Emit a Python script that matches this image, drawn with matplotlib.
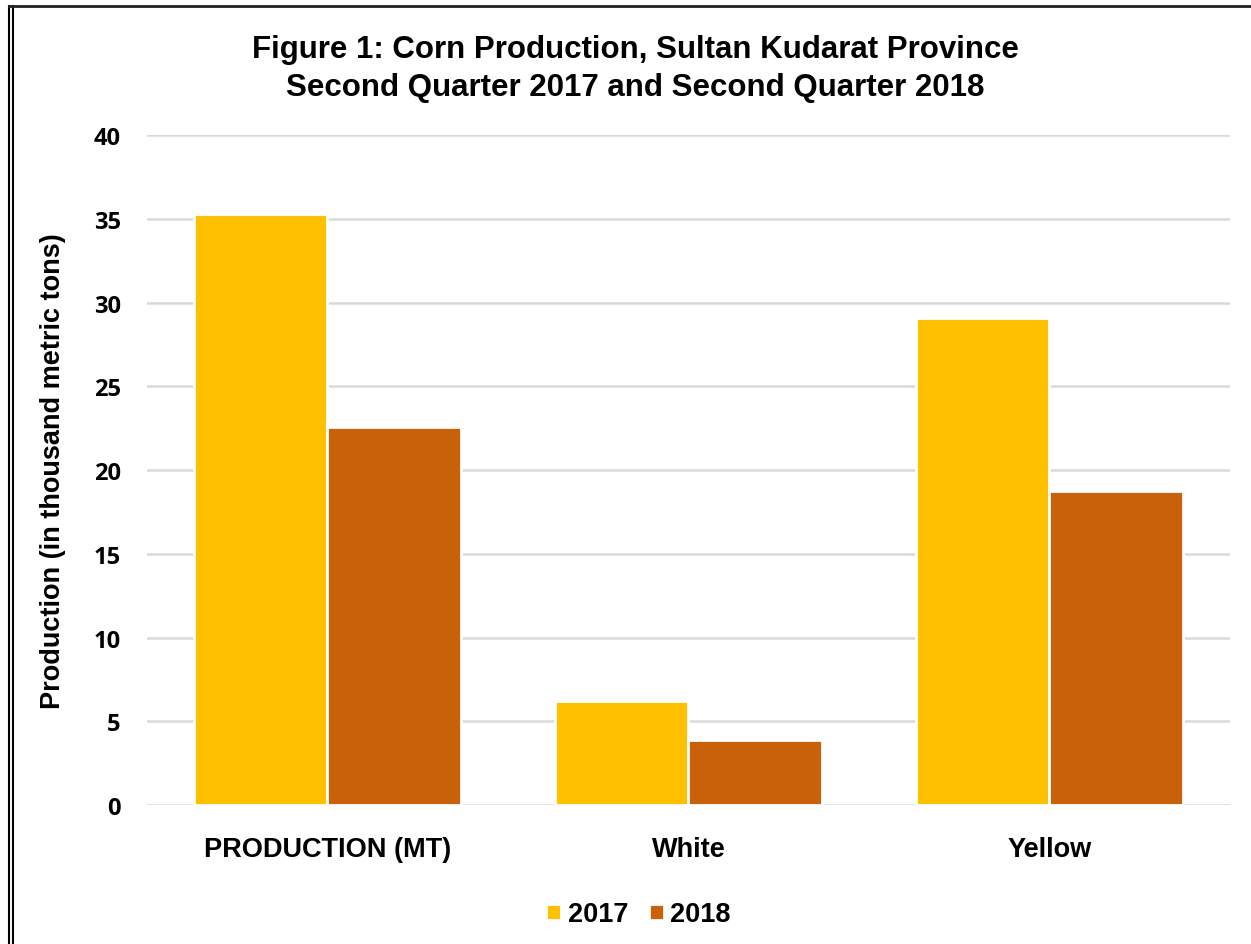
import matplotlib.pyplot as plt
import numpy as np
from matplotlib.lines import Line2D

categories = ['PRODUCTION (MT)', 'White', 'Yellow']
years = ['2017', '2018']
prod_2017 = [35.3, 6.2, 29.1]
prod_2018 = [22.6, 3.9, 18.75]
colors = ['#FFC000', '#C9600A']

plt.rcParams['font.family'] = ['Liberation Sans', 'DejaVu Sans']

fig = plt.figure(figsize=(12.51, 9.45), dpi=100)
ax = fig.add_axes([0.1175, 0.147, 0.8655, 0.709])

x = np.arange(len(categories))
w = 0.37
ax.bar(x - w / 2, prod_2017, w, color=colors[0], edgecolor='white', linewidth=2, label=years[0], zorder=3)
ax.bar(x + w / 2, prod_2018, w, color=colors[1], edgecolor='white', linewidth=2, label=years[1], zorder=3)

ax.set_xlim(-0.5, 2.5)
ax.set_ylim(0, 40)
ax.set_yticks(range(0, 41, 5))
ax.grid(axis='y', color='#D9D9D9', linewidth=1.8, zorder=0)
for s in ax.spines.values():
    s.set_visible(False)
ax.tick_params(length=0)
ax.tick_params(axis='y', pad=19)
ax.tick_params(axis='x', pad=22)
ax.set_xticks(x)
ax.set_xticklabels(categories, fontweight='bold', fontsize=19.5)
ax.set_yticklabels([str(v) for v in range(0, 41, 5)], fontweight='bold', fontsize=17,
                   family=['Open Sans', 'DejaVu Sans'])
ax.set_ylabel('Production (in thousand metric tons)', fontsize=19.5, fontweight='bold', labelpad=20)

fig.text(0.508, 0.963, 'Figure 1: Corn Production, Sultan Kudarat Province\nSecond Quarter 2017 and Second Quarter 2018',
         ha='center', va='top', fontsize=22.5, fontweight='heavy', linespacing=1.35)

ax.legend(loc='center', bbox_to_anchor=(0.454, -0.163), ncol=2, frameon=False,
          prop={'size': 19.5, 'weight': 'bold'}, handlelength=0.55, handleheight=0.55,
          handletextpad=0.25, columnspacing=0.75)

# page border lines
fig.add_artist(Line2D([0.0075, 0.0075], [0, 0.993], color='black', lw=1.5))
fig.add_artist(Line2D([0.0105, 0.0105], [0, 0.993], color='black', lw=1.5))
fig.add_artist(Line2D([0.0075, 1.0], [0.9925, 0.9925], color='#222222', lw=2))

fig.savefig('out.png', dpi=100)
